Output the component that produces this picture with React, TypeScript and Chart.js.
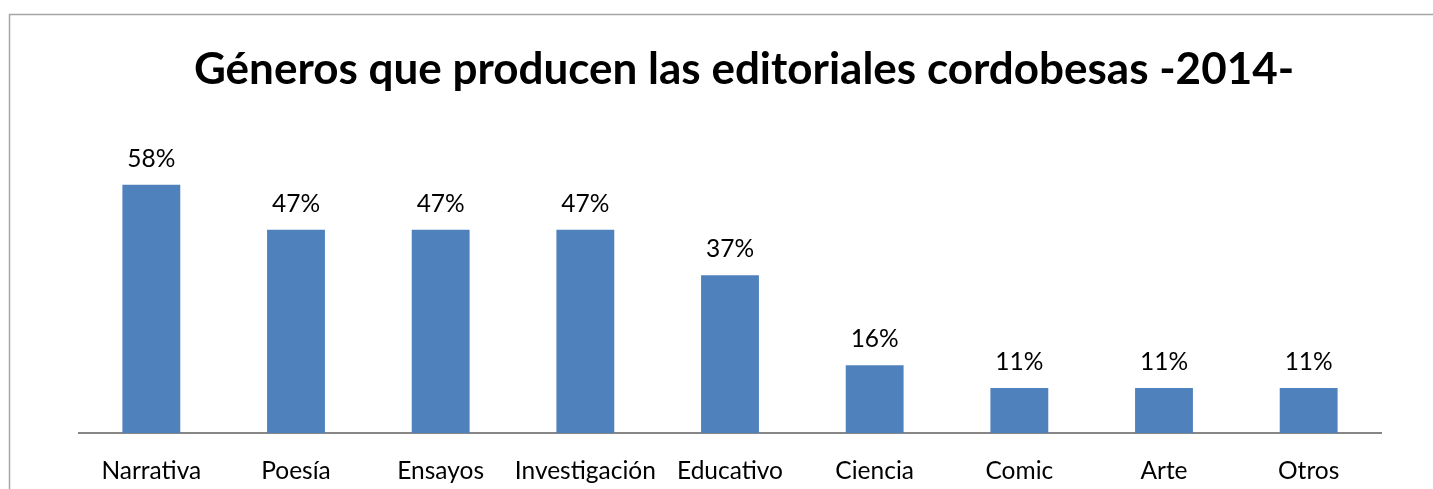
import React, { useEffect, useRef } from "react";
import { Chart, registerables } from "chart.js";

Chart.register(...registerables);

const categories = ["Narrativa", "Poesía", "Ensayos", "Investigación", "Educativo", "Ciencia", "Comic", "Arte", "Otros"];
const percentValues = [57.9, 47.4, 47.4, 47.4, 36.8, 15.8, 10.5, 10.5, 10.5];
const titleText = "Géneros que producen las editoriales cordobesas -2014-";

const FONT = "Lato, 'Open Sans', sans-serif";

const framePlugin = {
  id: "frame",
  beforeDraw(chart: any) {
    const ctx = chart.ctx;
    ctx.save();
    ctx.fillStyle = "#ffffff";
    ctx.fillRect(0, 0, chart.width, chart.height);
    ctx.strokeStyle = "#a6a6a6";
    ctx.lineWidth = 1.5;
    ctx.beginPath();
    ctx.moveTo(9.5, chart.height + 5);
    ctx.lineTo(9.5, 14.5);
    ctx.lineTo(chart.width + 5, 14.5);
    ctx.stroke();
    ctx.restore();
  },
  afterDraw(chart: any) {
    const ctx = chart.ctx;
    ctx.save();
    ctx.fillStyle = "#000000";
    ctx.font = `bold 44px ${FONT}`;
    ctx.textAlign = "center";
    ctx.textBaseline = "alphabetic";
    ctx.fillText(titleText, 744, 84);
    ctx.restore();
  },
};

const labelPlugin = {
  id: "barLabels",
  afterDatasetsDraw(chart: any) {
    const ctx = chart.ctx;
    const meta = chart.getDatasetMeta(0);
    ctx.save();
    ctx.fillStyle = "#000000";
    ctx.font = `24.5px ${FONT}`;
    ctx.textAlign = "center";
    ctx.textBaseline = "alphabetic";
    meta.data.forEach((bar: any, i: number) => {
      ctx.fillText(Math.round(percentValues[i]) + "%", bar.x, bar.y - 18);
    });
    ctx.restore();
  },
};

export default function App() {
  const ref = useRef<HTMLCanvasElement>(null);
  useEffect(() => {
    if (!ref.current) return;
    const chart = new Chart(ref.current, {
      type: "bar",
      data: {
        labels: categories,
        datasets: [
          {
            data: percentValues,
            backgroundColor: "#4F81BD",
            barPercentage: 0.4,
            categoryPercentage: 1,
          },
        ],
      },
      options: {
        animation: false,
        responsive: false,
        devicePixelRatio: 1,
        layout: { padding: { top: 133, left: 79, right: 52, bottom: 0 } },
        plugins: { legend: { display: false }, title: { display: false }, tooltip: { enabled: false } },
        scales: {
          x: {
            grid: { display: false },
            border: { display: true, color: "#868686", width: 2 },
            ticks: { color: "#000000", font: { family: FONT, size: 24.5 }, padding: 15, maxRotation: 0, autoSkip: false },
            afterFit: (s: any) => {
              s.height = 56;
            },
          },
          y: { display: false, min: 0, max: 70 },
        },
      },
      plugins: [framePlugin, labelPlugin],
    });
    return () => chart.destroy();
  }, []);
  return (
    <div style={{ position: "absolute", left: 0, top: 0, width: 1433, height: 489 }}>
      <canvas ref={ref} width={1433} height={489} style={{ display: "block" }} />
    </div>
  );
}
